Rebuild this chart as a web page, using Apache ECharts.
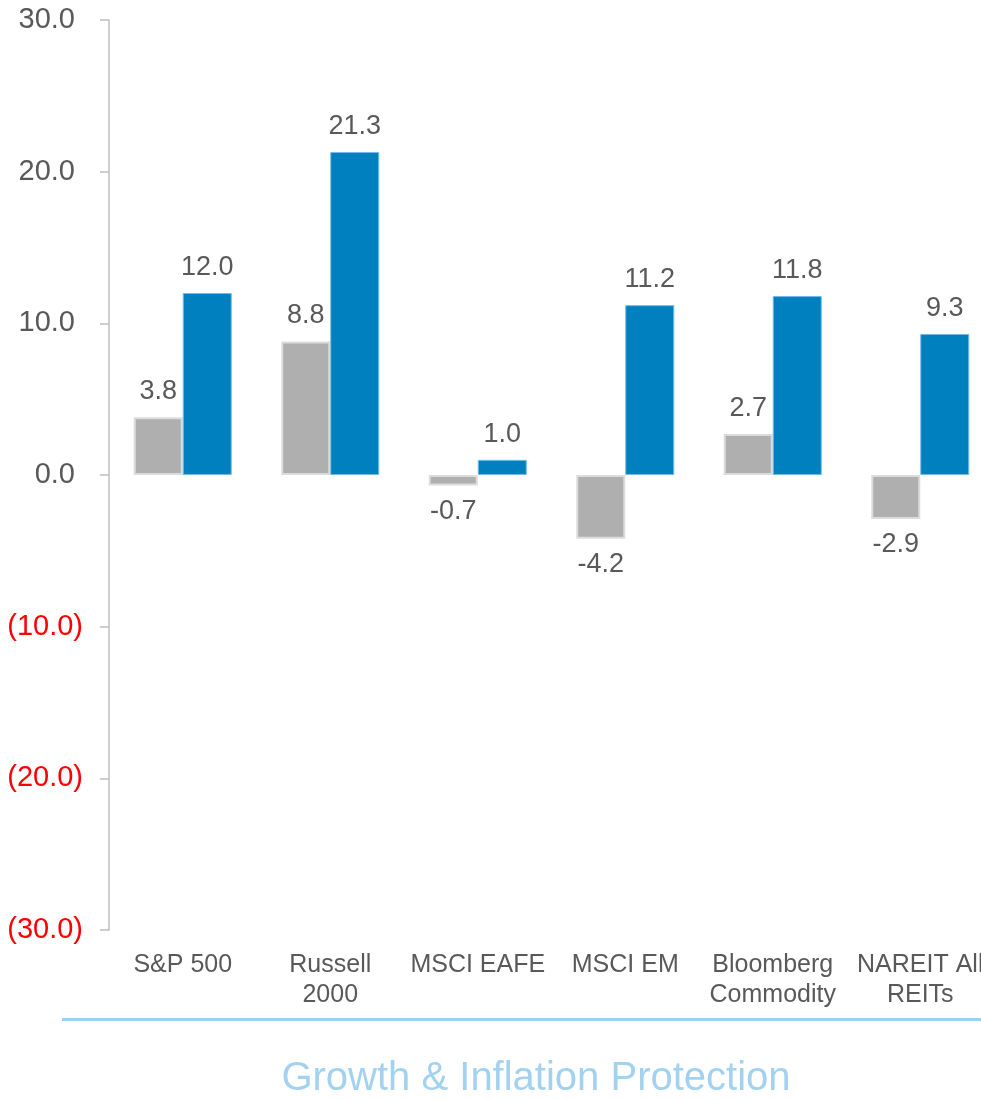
<!DOCTYPE html>
<html>
<head>
<meta charset="utf-8">
<script src="https://cdn.jsdelivr.net/npm/echarts@6/dist/echarts.min.js"></script>
<style>
html,body{margin:0;padding:0;background:#fff;overflow:hidden;}
#chart{width:995px;height:1100px;}
</style>
</head>
<body>
<div id="chart"></div>
<script>
const categories = ['S&P 500', 'Russell\n2000', 'MSCI EAFE', 'MSCI EM', 'Bloomberg\nCommodity', 'NAREIT All\nREITs'];
const greyValues = [3.8, 8.8, -0.7, -4.2, 2.7, -2.9];
const blueValues = [12.0, 21.3, 1.0, 11.2, 11.8, 9.3];
const titleText = 'Growth & Inflation Protection';

const FONT = '"Liberation Sans", Arial, sans-serif';
const chart = echarts.init(document.getElementById('chart'), null, {renderer: 'canvas'});

function labelFor(values) {
  return values.map(v => ({
    value: v,
    label: {position: v < 0 ? 'bottom' : 'top'}
  }));
}

chart.setOption({
  animation: false,
  backgroundColor: '#ffffff',
  grid: {left: 109, top: 20, width: 885, bottom: 170, containLabel: false},
  xAxis: {
    type: 'category',
    data: categories,
    axisLine: {show: false},
    axisTick: {show: false},
    axisLabel: {
      color: '#595959', fontSize: 25, fontFamily: FONT, lineHeight: 30,
      margin: 20, interval: 0
    }
  },
  yAxis: {
    type: 'value',
    min: -30, max: 30, interval: 10,
    splitLine: {show: false},
    axisLine: {show: true, lineStyle: {color: '#bfbfbf', width: 1.5}},
    axisTick: {show: true, length: 9, lineStyle: {color: '#bfbfbf', width: 1.5}},
    axisLabel: {
      margin: 26,
      fontFamily: FONT,
      formatter: v => v < 0 ? '{n|(' + Math.abs(v).toFixed(1) + ')}' : '{p|' + v.toFixed(1) + '}',
      rich: {
        n: {color: '#ff0000', fontSize: 29, fontFamily: FONT},
        p: {color: '#595959', fontSize: 29, fontFamily: FONT, padding: [0, 8, 0, 0]}
      }
    }
  },
  graphic: [
    {type: 'rect', shape: {x: 62, y: 1018, width: 919, height: 3}, style: {fill: '#9dcfee'}},
    {type: 'text', x: 536, y: 1079, style: {text: titleText, fill: '#a3d2f0', font: '40px ' + FONT, textAlign: 'center', textVerticalAlign: 'middle'}}
  ],
  series: [
    {
      type: 'bar', data: labelFor(greyValues), barWidth: 49, barGap: '0%',
      itemStyle: {color: '#aeafae', borderColor: '#dcdcdc', borderWidth: 2},
      label: {show: true, distance: 12, color: '#595959', fontSize: 27, fontFamily: FONT, formatter: p => p.value.toFixed(1)}
    },
    {
      type: 'bar', data: labelFor(blueValues), barWidth: 49,
      itemStyle: {color: '#0080be', borderColor: '#6fbde8', borderWidth: 1},
      label: {show: true, distance: 12, color: '#595959', fontSize: 27, fontFamily: FONT, formatter: p => p.value.toFixed(1)}
    }
  ]
});
</script>
</body>
</html>
